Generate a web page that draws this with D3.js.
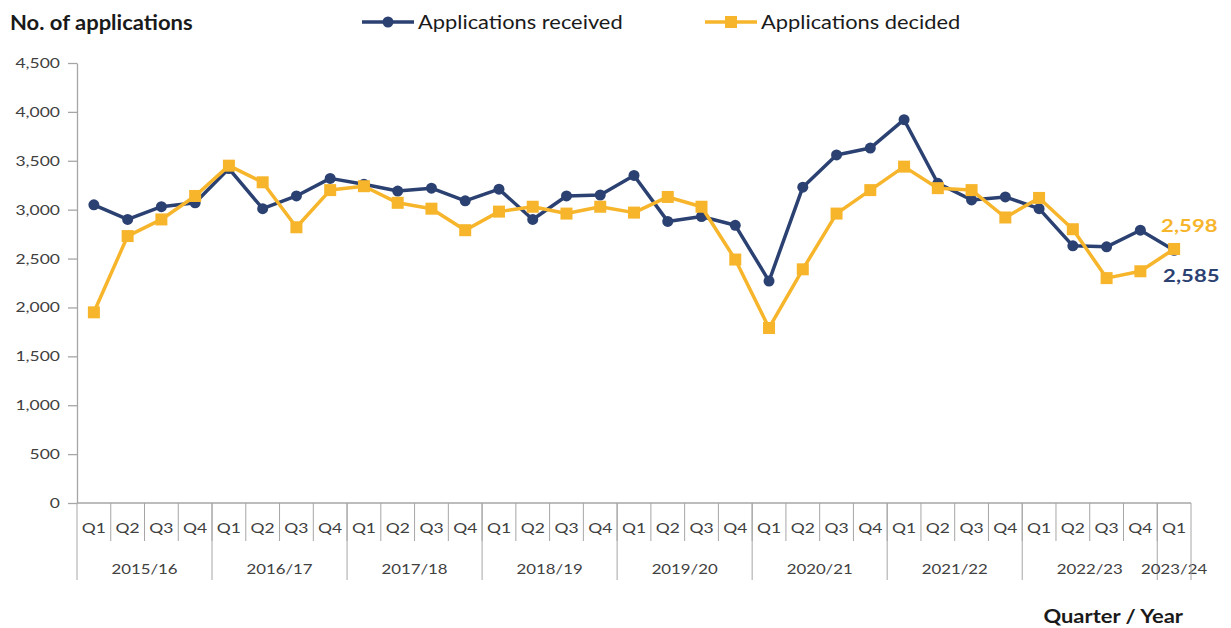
<!DOCTYPE html>
<html>
<head>
<meta charset="utf-8">
<script src="https://cdn.jsdelivr.net/npm/d3@7"></script>
<style>
    body { margin: 0; background: #fff; }
    svg { display: block; font-family: Lato, "Noto Sans", sans-serif; }
</style>
</head>
<body>
<svg id="chart" width="1231" height="628"></svg>
<script>
const years = ["2015/16", "2016/17", "2017/18", "2018/19", "2019/20", "2020/21", "2021/22", "2022/23", "2023/24"];
const quartersPerYear = [4, 4, 4, 4, 4, 4, 4, 4, 1];

const received = [
    3050, 2900, 3030, 3070,
    3420, 3010, 3140, 3320,
    3260, 3190, 3220, 3090,
    3210, 2900, 3140, 3150,
    3350, 2880, 2930, 2840,
    2270, 3230, 3560, 3630,
    3920, 3270, 3100, 3130,
    3010, 2630, 2620, 2790,
    2585
];

const decided = [
    1950, 2730, 2900, 3140,
    3450, 3280, 2820, 3200,
    3240, 3070, 3010, 2790,
    2980, 3030, 2960, 3030,
    2970, 3130, 3030, 2490,
    1790, 2390, 2960, 3200,
    3440, 3220, 3200, 2920,
    3120, 2800, 2300, 2370,
    2598
];

const yTicks = [0, 500, 1000, 1500, 2000, 2500, 3000, 3500, 4000, 4500];

const navy = "#2b4172";
const gold = "#f7b52c";
const textColor = "#404040";
const axisColor = "#a6a6a6";

// the reference font is wider than Lato, so text gets a small horizontal stretch
const stretch = 1.25;

function label(parent, text, x, y, options = {}) {
    const sx = options.sx || stretch;
    return parent
        .append("text")
        .attr("transform", `translate(${x},${y}) scale(${sx},1)`)
        .attr("text-anchor", options.anchor || "start")
        .attr("fill", options.color || textColor)
        .style("font-size", (options.size || 14) + "px")
        .style("font-weight", options.bold ? "bold" : "normal")
        .text(text);
}

// build the list of quarter slots from the year table
const slots = [];
years.forEach((year, y) => {
    for (let q = 0; q < quartersPerYear[y]; q++) slots.push({ year, label: "Q" + (q + 1), key: year + "-" + q });
});

const svg = d3.select("#chart");

const plot = { left: 77, right: 1191, top: 63, bottom: 503 };

const x = d3
    .scaleBand()
    .domain(slots.map(d => d.key))
    .range([plot.left, plot.right]);

const yScale = d3
    .scaleLinear()
    .domain([0, 4500])
    .range([plot.bottom, plot.top]);

// y axis (lines from d3, labels redrawn stretched)
const yAxis = svg
    .append("g")
    .attr("transform", `translate(${plot.left},0)`)
    .call(d3.axisLeft(yScale).tickValues(yTicks).tickFormat("").tickSize(9).tickSizeOuter(0));

yAxis.select(".domain").attr("stroke", axisColor).attr("stroke-width", 1.3);
yAxis.selectAll(".tick line").attr("stroke", axisColor).attr("stroke-width", 1.3);

const yLabels = svg.append("g");
yTicks.forEach(t => label(yLabels, d3.format(",")(t), 60, yScale(t) + 5, { anchor: "end", size: 14 }));

// x axis baseline
svg
    .append("line")
    .attr("x1", plot.left)
    .attr("x2", plot.right)
    .attr("y1", plot.bottom)
    .attr("y2", plot.bottom)
    .attr("stroke", axisColor)
    .attr("stroke-width", 1.3);

// quarter separators and labels
const xAxis = svg.append("g");

slots.forEach((slot, i) => {
    const x0 = x(slot.key);
    if (i > 0) {
        xAxis
            .append("line")
            .attr("x1", x0)
            .attr("x2", x0)
            .attr("y1", plot.bottom)
            .attr("y2", plot.bottom + 38)
            .attr("stroke", axisColor)
            .attr("stroke-width", 1);
    }
    label(xAxis, slot.label, x0 + x.bandwidth() / 2, plot.bottom + 30, { anchor: "middle", size: 14 });
});

// year separators and labels
let start = 0;
years.forEach((year, y) => {
    const first = slots[start].key;
    const last = slots[start + quartersPerYear[y] - 1].key;
    const x0 = x(first);
    const x1 = x(last) + x.bandwidth();

    xAxis
        .append("line")
        .attr("x1", x0)
        .attr("x2", x0)
        .attr("y1", plot.bottom)
        .attr("y2", plot.bottom + 77)
        .attr("stroke", axisColor)
        .attr("stroke-width", 1);

    label(xAxis, year, (x0 + x1) / 2, plot.bottom + 71, { anchor: "middle", size: 14, sx: 1.2 });

    start += quartersPerYear[y];
});

xAxis
    .append("line")
    .attr("x1", plot.right)
    .attr("x2", plot.right)
    .attr("y1", plot.bottom)
    .attr("y2", plot.bottom + 77)
    .attr("stroke", axisColor)
    .attr("stroke-width", 1);

// series
const cx = i => x(slots[i].key) + x.bandwidth() / 2;

const line = d3
    .line()
    .x((d, i) => cx(i))
    .y(d => yScale(d));

svg
    .append("path")
    .datum(received)
    .attr("fill", "none")
    .attr("stroke", navy)
    .attr("stroke-width", 3.5)
    .attr("stroke-linejoin", "round")
    .attr("d", line);

svg
    .append("g")
    .selectAll("circle")
    .data(received)
    .join("circle")
    .attr("cx", (d, i) => cx(i))
    .attr("cy", d => yScale(d))
    .attr("r", 5.5)
    .attr("fill", navy);

svg
    .append("path")
    .datum(decided)
    .attr("fill", "none")
    .attr("stroke", gold)
    .attr("stroke-width", 3.5)
    .attr("stroke-linejoin", "round")
    .attr("d", line);

svg
    .append("g")
    .selectAll("rect")
    .data(decided)
    .join("rect")
    .attr("x", (d, i) => cx(i) - 6)
    .attr("y", d => yScale(d) - 6)
    .attr("width", 12)
    .attr("height", 12)
    .attr("fill", gold);

// end labels
const lastIndex = slots.length - 1;

label(svg, d3.format(",")(decided[lastIndex]), cx(lastIndex) - 13, yScale(decided[lastIndex]) - 17, { size: 17, bold: true, color: gold, sx: 1.3 });
label(svg, d3.format(",")(received[lastIndex]), cx(lastIndex) - 11, yScale(received[lastIndex]) + 32, { size: 17, bold: true, color: navy, sx: 1.3 });

// titles
label(svg, "No. of applications", 10, 30, { size: 20, bold: true, color: "#1a1a1a", sx: 1.1 });
label(svg, "Quarter / Year", 1183, 623, { size: 18, bold: true, color: "#1a1a1a", anchor: "end", sx: 1.22 });

// legend
const legend = [
    { name: "Applications received", color: navy, shape: "circle", x: 362 },
    { name: "Applications decided", color: gold, shape: "square", x: 705 }
];

legend.forEach(item => {
    const g = svg.append("g").attr("transform", `translate(${item.x},22)`);
    g
        .append("line")
        .attr("x1", 0)
        .attr("x2", 52)
        .attr("stroke", item.color)
        .attr("stroke-width", 3.5);
    if (item.shape === "circle") {
        g.append("circle").attr("cx", 26).attr("r", 5.5).attr("fill", item.color);
    } else {
        g.append("rect").attr("x", 20).attr("y", -6).attr("width", 12).attr("height", 12).attr("fill", item.color);
    }
    label(g, item.name, 56, 7, { size: 19, color: "#1a1a1a", sx: 1.15 });
});
</script>
</body>
</html>
